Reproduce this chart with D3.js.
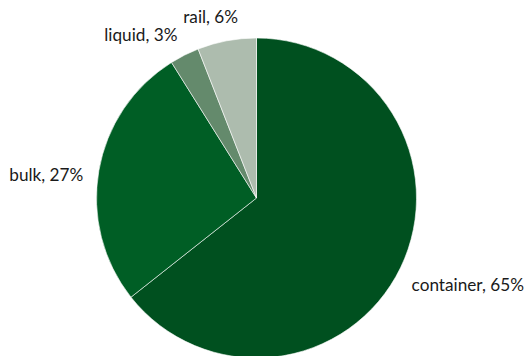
<!DOCTYPE html>
<html>
<head>
<meta charset="utf-8">
<script src="https://cdn.jsdelivr.net/npm/d3@7"></script>
<style>
  body { margin: 0; background: #fff; }
  svg text { font-family: Lato, "Open Sans", sans-serif; font-size: 17.2px; fill: #1a1a1a; }
</style>
</head>
<body>
<div id="chart"></div>
<script>
// cargo shares, clockwise from 12 o'clock
var categories = ['container', 'bulk', 'liquid', 'rail'];
var shares = [65, 27, 3, 6];
var colors = ['#00501f', '#005e25', '#648a6c', '#adbcae'];

var width = 531, height = 356;
var cx = 256.5, cy = 198, radius = 160;
var fontSize = 17.2;
var labelGap = 14;
var labelTurn = -3.5 * Math.PI / 180;   // excel nudges outside labels a bit anticlockwise
var labelPad = 4;

var svg = d3.select('#chart').append('svg')
	.attr('width', width)
	.attr('height', height);

var g = svg.append('g')
	.attr('transform', 'translate(' + cx + ',' + cy + ')');

var data = categories.map(function(c, i) {
	return { name: c, value: shares[i], color: colors[i] };
});

var pie = d3.pie()
	.sort(null)
	.value(function(d) { return d.value; });

var arc = d3.arc()
	.innerRadius(0)
	.outerRadius(radius);

var arcs = pie(data);

g.selectAll('path.slice')
	.data(arcs)
	.enter().append('path')
	.attr('class', 'slice')
	.attr('d', arc)
	.attr('fill', function(d) { return d.data.color; })
	.attr('stroke', '#ffffff')
	.attr('stroke-width', 0.6);

var labels = g.selectAll('text.label')
	.data(arcs)
	.enter().append('text')
	.attr('class', 'label')
	.attr('text-anchor', 'middle')
	.attr('dominant-baseline', 'central')
	.text(function(d) { return d.data.name + ', ' + d.data.value + '%'; });

// place a label box just outside the rim along angle a
function placeAt(a, w, h) {
	var sx = Math.sin(a), sy = -Math.cos(a);
	var ext = Math.abs(sx) * w / 2 + Math.abs(sy) * h / 2;
	var dist = radius + labelGap + ext;
	return { x: sx * dist, y: sy * dist, w: w, h: h };
}

function overlaps(p, q) {
	return Math.abs(p.x - q.x) < (p.w + q.w) / 2 + labelPad &&
		Math.abs(p.y - q.y) < (p.h + q.h) / 2 + labelPad;
}

// last slice first, earlier labels turn back until they are clear
var placed = [];
var nodes = labels.nodes().reverse();
nodes.forEach(function(node) {
	var d = d3.select(node).datum();
	var w = node.getComputedTextLength();
	var h = fontSize * 0.75;
	var a = (d.startAngle + d.endAngle) / 2 + labelTurn;
	var p = placeAt(a, w, h);
	var tries = 0;
	while (placed.some(function(q) { return overlaps(p, q); }) && tries < 90) {
		a -= Math.PI / 180;
		p = placeAt(a, w, h);
		tries++;
	}
	placed.push(p);
	d3.select(node).attr('x', p.x).attr('y', p.y);
});
</script>
</body>
</html>
